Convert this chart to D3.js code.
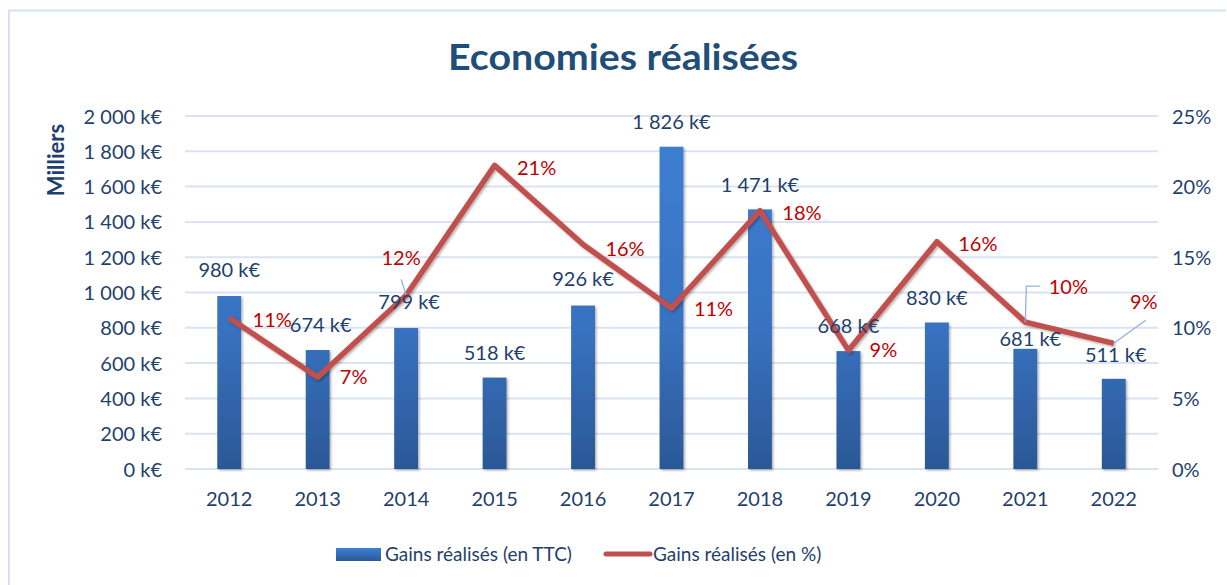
<!DOCTYPE html>
<html><head><meta charset="utf-8">
<script src="https://cdn.jsdelivr.net/npm/d3@7"></script>
<style>body{margin:0;background:#fff}svg{display:block}text{font-family:Lato,"Open Sans",sans-serif}</style>
</head><body>
<script>
const years = ["2012","2013","2014","2015","2016","2017","2018","2019","2020","2021","2022"];
const gains = [980,674,799,518,926,1826,1471,668,830,681,511];
const pct = [10.7,6.5,12.3,21.5,15.9,11.4,18.3,8.4,16.1,10.4,8.9];
const pctLabels = ["11%","7%","12%","21%","16%","11%","18%","9%","16%","10%","9%"];
const leftTicks = [0,200,400,600,800,1000,1200,1400,1600,1800,2000];
const rightTicks = [0,5,10,15,20,25];
// manual label offsets (px) relative to mark position
const gainLabelOff = [[0,-26],[3,-25],[3,-26],[0,-25],[0,-27],[0,-25],[0,-24],[0,-25],[0,-25],[5,-10],[2,-24]];
const pctLabelOff = [[43,2],[36,0],[-5,-37],[42,3],[42,5],[42,1],[42,2],[35,0],[41,2],[43,-35],[30,-41]];

const W=1227,H=585;
const svg=d3.select("body").append("svg").attr("width",W).attr("height",H);
const defs=svg.append("defs");
const m={l:185,r:1158,t:116,b:469};
const x=d3.scaleBand().domain(years).range([m.l,m.r]).paddingInner(0.73).paddingOuter(0.365);
const y=d3.scaleLinear().domain([0,2000]).range([m.b,m.t]);
const y2=d3.scaleLinear().domain([0,25]).range([m.b,m.t]);
const fmt=v=>d3.format(",")(v).replace(/,/g," ")+" k€";
const txt="#1f3f6e";
const fs="20px";

// border
svg.append("path").attr("d",`M9,${H} V10.5 H1226`).attr("fill","none").attr("stroke","#d6e2f3").attr("stroke-width",2);

const g=defs.append("linearGradient").attr("id","bg").attr("gradientUnits","userSpaceOnUse").attr("x1",0).attr("x2",0).attr("y1",m.t).attr("y2",m.b);
g.append("stop").attr("offset","0%").attr("stop-color","#3d80d4");
g.append("stop").attr("offset","60%").attr("stop-color","#3872c0");
g.append("stop").attr("offset","100%").attr("stop-color","#2b5896");
const f=defs.append("filter").attr("id","sh").attr("x","-30%").attr("y","-10%").attr("width","160%").attr("height","130%");
f.append("feDropShadow").attr("dx",1.5).attr("dy",1.5).attr("stdDeviation",1.2).attr("flood-color","#000").attr("flood-opacity",0.3);
const lgb=defs.append("linearGradient").attr("id","lgb").attr("x1",0).attr("x2",0).attr("y1",0).attr("y2",1);
lgb.append("stop").attr("offset","0%").attr("stop-color","#3d80d4");
lgb.append("stop").attr("offset","100%").attr("stop-color","#2b5896");

// grid
svg.append("g").selectAll("line").data(leftTicks).join("line")
 .attr("x1",m.l).attr("x2",m.r).attr("y1",d=>y(d)).attr("y2",d=>y(d))
 .attr("stroke","#d9e3f1").attr("stroke-width",2);

// left axis
const la=svg.append("g").attr("transform",`translate(${m.l-23},0)`).call(d3.axisLeft(y).tickValues(leftTicks).tickFormat(fmt).tickSize(0).tickPadding(0));
la.select(".domain").remove();
la.selectAll("text").attr("fill",txt).style("font-size",fs).attr("dy","0.35em");
// right axis
const ra=svg.append("g").attr("transform",`translate(${m.r+14},0)`).call(d3.axisRight(y2).tickValues(rightTicks).tickFormat(d=>d+"%").tickSize(0).tickPadding(0));
ra.select(".domain").remove();
ra.selectAll("text").attr("fill",txt).style("font-size",fs).attr("dy","0.35em");
// bottom axis
const ba=svg.append("g").attr("transform",`translate(0,${m.b+22})`).call(d3.axisBottom(x).tickSize(0).tickPadding(0));
ba.select(".domain").remove();
ba.selectAll("text").attr("fill",txt).style("font-size",fs).attr("dy","0.75em");

// bars
svg.append("g").selectAll("rect").data(gains).join("rect")
 .attr("x",(d,i)=>x(years[i])).attr("width",x.bandwidth())
 .attr("y",d=>y(d)).attr("height",d=>m.b-y(d))
 .attr("fill","url(#bg)").attr("filter","url(#sh)");

// line
const cx=i=>x(years[i])+x.bandwidth()/2;
svg.append("path").datum(pct).attr("d",d3.line().x((d,i)=>cx(i)).y(d=>y2(d)))
 .attr("fill","none").attr("stroke","#c0504d").attr("stroke-width",5.5).attr("stroke-linejoin","round")
 .attr("filter","url(#sh)");

// leader lines
const ll=svg.append("g").attr("stroke","#8fb3e0").attr("stroke-width",1.3).attr("fill","none");
ll.append("path").attr("d",`M${cx(2)},${y2(pct[2])} L${cx(2)-5},${y2(pct[2])-16}`);
ll.append("path").attr("d",`M${cx(9)},${y2(pct[9])} L${cx(9)+1},${y2(pct[9])-36} H${cx(9)+15}`);
ll.append("path").attr("d",`M${cx(10)},${y2(pct[10])} L${cx(10)+32},${y2(pct[10])-23}`);

// gain labels
svg.append("g").selectAll("text").data(gains).join("text")
 .attr("x",(d,i)=>cx(i)+gainLabelOff[i][0]).attr("y",(d,i)=>y(d)+gainLabelOff[i][1])
 .attr("text-anchor","middle").attr("dy","0.35em").attr("fill",txt).style("font-size",fs).text(fmt);
// pct labels
svg.append("g").selectAll("text").data(pct).join("text")
 .attr("x",(d,i)=>cx(i)+pctLabelOff[i][0]).attr("y",(d,i)=>y2(d)+pctLabelOff[i][1])
 .attr("text-anchor","middle").attr("dy","0.35em").attr("fill","#c00000").style("font-size",fs).text((d,i)=>pctLabels[i]);

// title
svg.append("text").attr("x",623).attr("y",70).attr("text-anchor","middle").attr("fill","#1f4e79")
 .style("font-size","37px").style("font-weight","bold").attr("textLength",350).attr("lengthAdjust","spacingAndGlyphs").text("Economies réalisées");
// y title
svg.append("text").attr("transform","translate(64,160) rotate(-90)").attr("text-anchor","middle").attr("fill",txt)
 .style("font-size","22px").style("font-weight","bold").text("Milliers");

// legend
const lg=svg.append("g");
lg.append("rect").attr("x",336).attr("y",548).attr("width",45).attr("height",13).attr("fill","url(#lgb)");
lg.append("text").attr("x",385).attr("y",554).attr("dy","0.35em").attr("fill",txt).style("font-size","19px").text("Gains réalisés (en TTC)");
lg.append("line").attr("x1",606).attr("x2",650).attr("y1",554).attr("y2",554).attr("stroke","#c0504d").attr("stroke-width",5).attr("stroke-linecap","round");
lg.append("text").attr("x",653).attr("y",554).attr("dy","0.35em").attr("fill",txt).style("font-size","19px").text("Gains réalisés (en %)");
</script>
</body></html>
